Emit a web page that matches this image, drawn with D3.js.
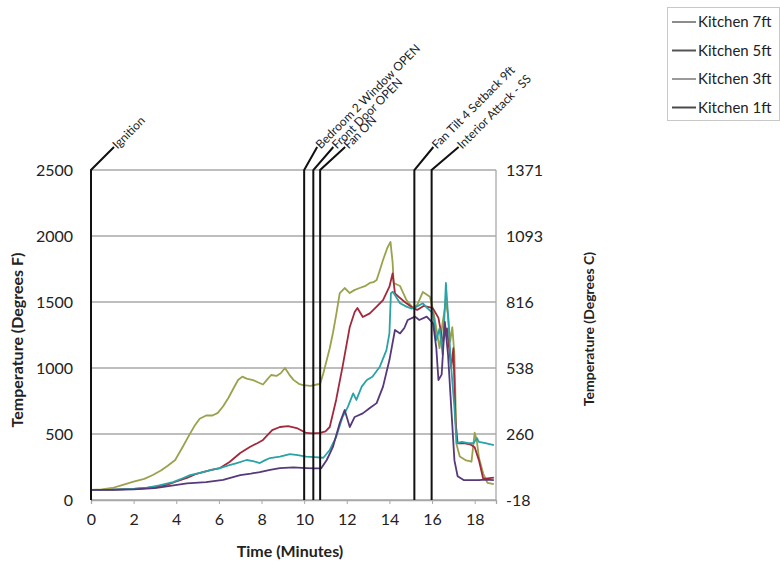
<!DOCTYPE html>
<html><head><meta charset="utf-8">
<script src="https://cdn.jsdelivr.net/npm/d3@7/dist/d3.min.js"></script>
<style>
body{margin:0;background:#fff}
text{font-family:Lato,"Open Sans",sans-serif;fill:#222}
</style>
</head><body>
<svg id="c" width="780" height="568"></svg>
<script>
// ---------- data ----------
const seriesNames = ["Kitchen 7ft", "Kitchen 5ft", "Kitchen 3ft", "Kitchen 1ft"];
const kitchen7ft = [[0,76],[0.5,80],[1,91],[1.5,115],[2,139],[2.5,160],[2.9,189],[3.3,225],[3.6,260],[3.95,303],[4.3,402],[4.6,490],[4.85,560],[5.1,615],[5.4,640],[5.7,640],[5.95,660],[6.2,710],[6.45,775],[6.7,850],[6.9,909],[7.1,935],[7.3,920],[7.6,909],[7.85,890],[8.07,875],[8.25,910],[8.45,947],[8.7,940],[8.9,960],[9.1,1000],[9.3,950],[9.5,910],[9.75,880],[9.95,871],[10.3,865],[10.6,875],[10.75,880],[10.9,960],[11.06,1060],[11.2,1150],[11.35,1265],[11.5,1400],[11.67,1568],[11.9,1606],[12.14,1568],[12.35,1590],[12.6,1606],[12.85,1620],[13.08,1644],[13.25,1650],[13.4,1667],[13.55,1740],[13.7,1818],[13.9,1909],[14.05,1955],[14.15,1800],[14.2,1644],[14.5,1621],[14.8,1515],[15.1,1455],[15.3,1477],[15.57,1576],[15.9,1540],[16.05,1440],[16.2,1300],[16.35,1150],[16.5,1350],[16.65,1500],[16.75,1400],[16.85,1200],[16.95,1310],[17.05,1100],[17.15,420],[17.3,330],[17.6,300],[17.85,290],[18.0,510],[18.1,450],[18.2,320],[18.4,200],[18.6,130],[18.9,120]];
const kitchen5ft = [[0,76],[1,78],[2,84],[2.6,91],[3.1,102],[3.55,114],[4,140],[4.5,167],[4.9,195],[5.25,212],[5.65,228],[6.05,242],[6.5,288],[7.0,356],[7.45,402],[7.8,430],[8.07,455],[8.3,495],[8.5,530],[8.86,553],[9.25,560],[9.65,545],[10.1,508],[10.4,505],[10.75,508],[11.0,520],[11.2,553],[11.5,758],[11.8,1008],[12.14,1311],[12.37,1424],[12.5,1455],[12.75,1386],[13.08,1414],[13.4,1465],[13.7,1515],[14.0,1616],[14.15,1717],[14.26,1566],[14.5,1530],[14.8,1490],[15.1,1455],[15.3,1440],[15.6,1470],[15.9,1460],[16.05,1450],[16.3,1380],[16.5,1200],[16.7,1300],[16.9,1000],[17.0,1150],[17.1,600],[17.2,430],[17.5,430],[17.8,420],[18.0,400],[18.2,300],[18.4,160],[18.9,170]];
const kitchen3ft = [[0,76],[1,78],[2,84],[2.6,91],[3.2,110],[3.85,136],[4.3,165],[4.65,189],[5.25,212],[5.65,228],[6.05,242],[6.45,262],[6.84,280],[7.3,303],[7.6,295],[7.92,280],[8.15,300],[8.4,318],[8.86,328],[9.33,348],[9.7,340],[10.1,328],[10.5,325],[10.9,320],[11.2,379],[11.5,477],[11.8,629],[12.05,705],[12.3,808],[12.45,758],[12.7,859],[12.94,909],[13.2,934],[13.55,1010],[13.86,1136],[14.0,1262],[14.07,1566],[14.16,1578],[14.5,1490],[14.8,1465],[15.05,1450],[15.28,1465],[15.57,1490],[15.8,1450],[16.05,1414],[16.2,1212],[16.35,1300],[16.5,1100],[16.65,1644],[16.75,1400],[16.9,1000],[17.05,700],[17.15,430],[17.4,440],[17.7,430],[17.95,430],[18.1,470],[18.2,440],[18.5,430],[18.9,415]];
const kitchen1ft = [[0,76],[1,77],[2,80],[3,90],[3.4,99],[4.5,126],[5.4,136],[6.2,152],[7.0,189],[7.5,200],[7.92,212],[8.4,228],[8.86,242],[9.5,247],[10.1,242],[10.5,240],[10.8,240],[11.06,303],[11.35,402],[11.67,583],[11.9,682],[12.14,553],[12.37,629],[12.75,656],[13.08,697],[13.4,734],[13.7,859],[14.0,1060],[14.26,1288],[14.5,1262],[14.7,1303],[14.86,1364],[15.2,1389],[15.4,1364],[15.75,1389],[16.05,1338],[16.2,1150],[16.3,909],[16.45,950],[16.6,1350],[16.75,1100],[16.9,700],[17.05,300],[17.2,180],[17.5,150],[17.8,150],[18.2,150],[18.5,155],[18.9,150]];
const seriesData = [kitchen7ft, kitchen5ft, kitchen3ft, kitchen1ft];

const xTicks = [0, 2, 4, 6, 8, 10, 12, 14, 16, 18];
const yTicksF = [0, 500, 1000, 1500, 2000, 2500];
const yTicksC = [-18, 260, 538, 816, 1093, 1371];

const eventTimes = [0, 10.0, 10.43, 10.75, 15.17, 15.98];
const eventLabels = ["Ignition", "Bedroom 2 Window OPEN", "Front Door OPEN", "Fan ON", "Fan Tilt 4 Setback 9ft", "Interior Attack - SS"];

// ---------- styles ----------
const lineColors = ["#9aa24c", "#a3283c", "#2aa3a6", "#55397a"];
const legendColors = ["#8c8c8c", "#555555", "#9a9a9a", "#4a4a4a"];
const leaderDx = [23, 13, 20, 25, 19, 27];

// ---------- chart ----------
const svg = d3.select("#c");
const x = d3.scaleLinear().domain([0, 19]).range([91, 496]);
const y = d3.scaleLinear().domain([0, 2500]).range([500, 170]);
const yC = d3.scaleLinear().domain([-17.78, 1371.1]).range([500, 170]);

// gridlines
svg.append("g").selectAll("line").data(yTicksF).join("line")
  .attr("x1", x(0)).attr("x2", x(19))
  .attr("y1", d => y(d)).attr("y2", d => y(d))
  .attr("stroke", "#a8a8a8").attr("stroke-width", 1.3);
// right border
svg.append("line").attr("x1", x(19)).attr("x2", x(19)).attr("y1", y(0)).attr("y2", y(2500))
  .attr("stroke", "#a8a8a8").attr("stroke-width", 1.3);

// x axis
const xAxis = svg.append("g").attr("transform", `translate(0,${y(0)})`)
  .call(d3.axisBottom(x).tickValues(xTicks).tickSize(4).tickPadding(10));
xAxis.select(".domain").attr("stroke", "#a8a8a8").attr("stroke-width", 1.3);
xAxis.selectAll(".tick line").attr("stroke", "#a8a8a8");
xAxis.selectAll("text").attr("font-size", 16).attr("fill", "#222").attr("font-family", "Lato");

// left axis
const yAxis = svg.append("g").attr("transform", `translate(${x(0)},0)`)
  .call(d3.axisLeft(y).tickValues(yTicksF).tickFormat(d => String(d)).tickSize(0).tickPadding(18));
yAxis.select(".domain").attr("stroke", "#555");
yAxis.selectAll("text").attr("font-size", 16).attr("fill", "#222").attr("font-family", "Lato");

// right axis
const yAxisR = svg.append("g").attr("transform", `translate(${x(19)},0)`)
  .call(d3.axisRight(yC).tickValues(yTicksC).tickFormat(d => String(d)).tickSize(0).tickPadding(10));
yAxisR.select(".domain").remove();
yAxisR.selectAll("text").attr("font-size", 16).attr("fill", "#222").attr("font-family", "Lato");

// series
const line = d3.line().x(d => x(d[0])).y(d => y(d[1]));
svg.append("g").selectAll("path").data(seriesData).join("path")
  .attr("d", line).attr("fill", "none")
  .attr("stroke", (d, i) => lineColors[i]).attr("stroke-width", 1.8)
  .attr("stroke-linejoin", "round");

// event lines
const ev = svg.append("g").selectAll("g").data(eventTimes).join("g");
ev.append("path")
  .attr("d", (d, i) => `M${x(d)},${y(0)}L${x(d)},${y(2500)}L${x(d) + leaderDx[i]},${y(2500) - 23}`)
  .attr("fill", "none").attr("stroke", "#111").attr("stroke-width", 2);
ev.append("text")
  .attr("transform", (d, i) => `translate(${x(d) + leaderDx[i] + 1},${y(2500) - 23}) rotate(-45)`)
  .attr("font-size", 12).attr("dy", "0.3em")
  .text((d, i) => eventLabels[i]);

// axis titles
svg.append("text").attr("transform", `translate(23,${(y(0) + y(2500)) / 2 + 5}) rotate(-90)`)
  .attr("text-anchor", "middle").attr("font-weight", "bold").attr("font-size", 16)
  .text("Temperature (Degrees F)");
svg.append("text").attr("transform", `translate(594,${(y(0) + y(2500)) / 2 - 6}) rotate(-90)`)
  .attr("text-anchor", "middle").attr("font-weight", "bold").attr("font-size", 14)
  .text("Temperature (Degrees C)");
svg.append("text").attr("x", 290).attr("y", 557)
  .attr("text-anchor", "middle").attr("font-weight", "bold").attr("font-size", 16)
  .text("Time (Minutes)");

// legend
const lg = svg.append("g");
lg.append("rect").attr("x", 667.5).attr("y", 7.5).attr("width", 112).attr("height", 113)
  .attr("fill", "#fff").attr("stroke", "#c8c8c8");
const li = lg.selectAll("g").data(seriesNames).join("g")
  .attr("transform", (d, i) => `translate(0,${22 + i * 28.5})`);
li.append("line").attr("x1", 672).attr("x2", 696).attr("y1", 0).attr("y2", 0)
  .attr("stroke", (d, i) => legendColors[i]).attr("stroke-width", 2);
li.append("text").attr("x", 698).attr("y", 0).attr("dy", "0.35em")
  .attr("font-size", 15).text(d => d);
</script>
</body></html>
